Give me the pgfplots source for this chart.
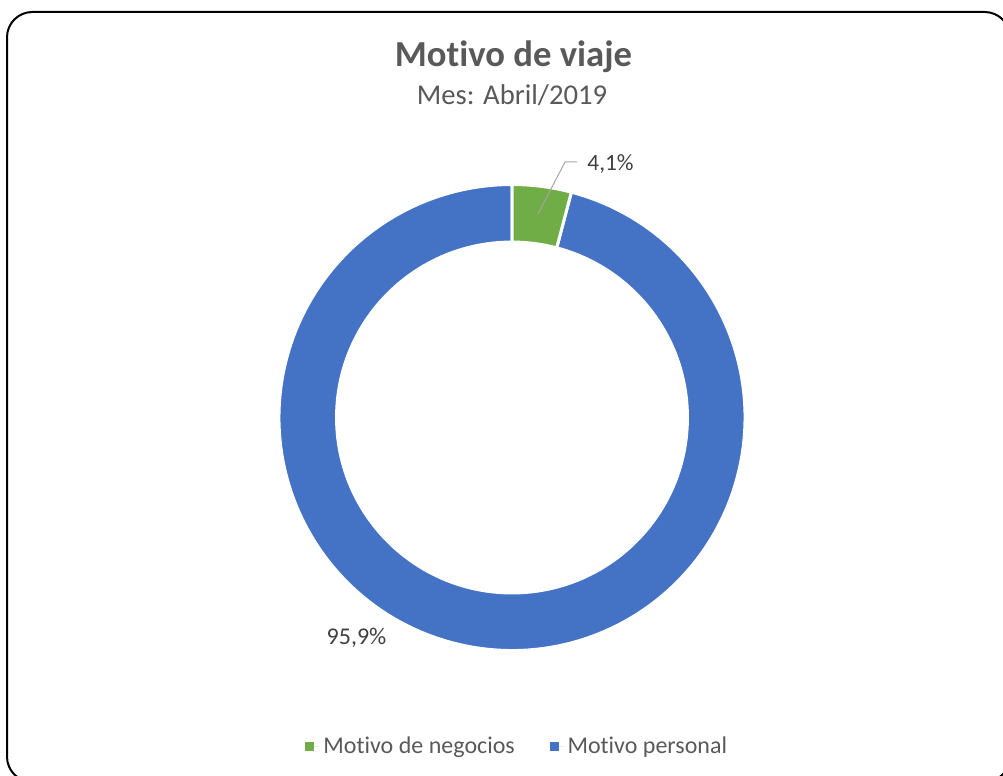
\documentclass[border=0pt]{standalone}
\usepackage{pgfplots}
\pgfplotsset{compat=1.18}
\usepackage{pgfplotstable}
\usepackage{fontspec}
\setmainfont{Carlito}[Ligatures={NoCommon}]
\definecolor{cblue}{HTML}{4472C4}
\definecolor{cgreen}{HTML}{70AD47}
\definecolor{ctitle}{HTML}{595959}
\definecolor{clabel}{HTML}{404040}
\definecolor{cline}{HTML}{A6A6A6}

\pgfplotstableread{
cat value
negocios 4.1
personal 95.9
}\datatable
\pgfplotstablegetelem{0}{value}\of\datatable \let\vNeg\pgfplotsretval
\pgfplotstablegetelem{1}{value}\of\datatable \let\vPer\pgfplotsretval

\begin{document}
\begin{tikzpicture}[x=0.75pt,y=0.75pt]
\useasboundingbox (0,0) rectangle (1003,775);
\begin{scope}
\clip (0,0) rectangle (1003,775);
\draw[black, line width=1.5pt, rounded corners=19pt] (7,763) rectangle (1010,-7);
\end{scope}
\pgfmathsetmacro\aS{90}
\pgfmathsetmacro\aM{90-3.6*\vNeg}
\pgfmathsetmacro\aE{\aM-3.6*\vPer}
\def\rO{1}
\def\rI{0.753}
\begin{axis}[at={(384pt,268.125pt)}, anchor=center, scale only axis,
  width=349.5pt, height=349.5pt, xmin=-1, xmax=1, ymin=-1, ymax=1,
  hide axis, clip=false,
  legend style={at={(0.512,-0.205)}, anchor=center, draw=none, fill=none,
    legend columns=2, font=\fontsize{18}{20}\selectfont, text=ctitle,
    /tikz/every even column/.append style={column sep=24pt}},
  legend cell align=left,
  legend image code/.code={\fill[#1] (0pt,-3.4pt) rectangle (6.75pt,3.4pt);
    \path (0pt,0pt) -- (11.5pt,0pt);}]
\addlegendimage{fill=cgreen, draw=none}
\addlegendentry{Motivo de negocios}
\addlegendimage{fill=cblue, draw=none}
\addlegendentry{Motivo personal}
\filldraw[fill=cblue, draw=white, line width=2.25pt]
  (axis cs:{cos(\aM)},{sin(\aM)}) arc[start angle=\aM, end angle=\aE, radius=\rO]
  -- (axis cs:{\rI*cos(\aE)},{\rI*sin(\aE)}) arc[start angle=\aE, end angle=\aM, radius=\rI] -- cycle;
\filldraw[fill=cgreen, draw=white, line width=2.25pt]
  (axis cs:{cos(\aS)},{sin(\aS)}) arc[start angle=\aS, end angle=\aM, radius=\rO]
  -- (axis cs:{\rI*cos(\aM)},{\rI*sin(\aM)}) arc[start angle=\aM, end angle=\aS, radius=\rI] -- cycle;
\end{axis}
\draw[cline, line width=0.75pt] (538,561) -- (565,613) -- (577,613);
\node[anchor=base, text=clabel, font=\fontsize{17.5}{20}\selectfont, inner sep=0pt] at (610.5,604) {4,1\%};
\node[anchor=base, text=clabel, font=\fontsize{18}{20}\selectfont, inner sep=0pt] at (356.5,131) {95,9\%};
\node[anchor=base, text=ctitle, font=\fontsize{27.5}{32}\selectfont\bfseries, inner sep=0pt] at (513.5,708) {Motivo de viaje};
\node[anchor=base, text=ctitle, font=\fontsize{21.5}{26}\selectfont, inner sep=0pt] at (512,670) {Mes: Abril/2019};
\end{tikzpicture}
\end{document}
